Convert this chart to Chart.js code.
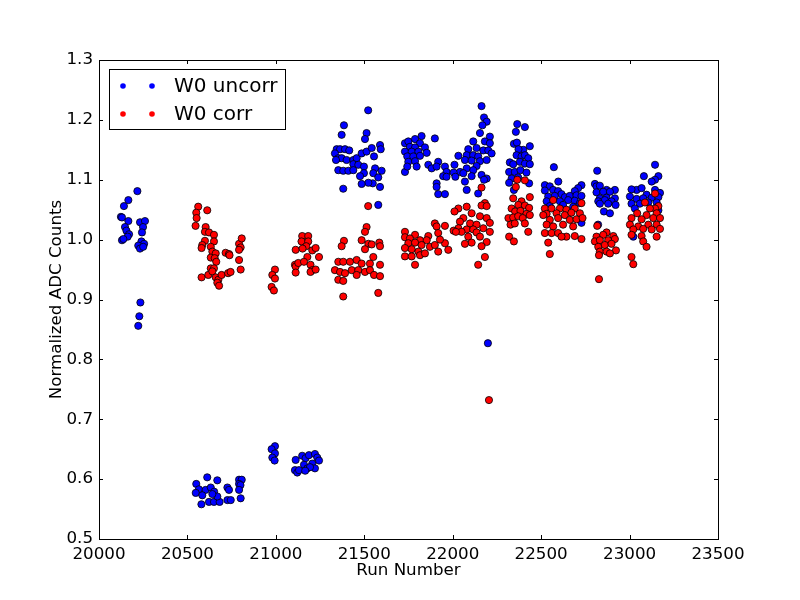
<!DOCTYPE html>
<html>
<head>
<meta charset="utf-8">
<script src="https://cdn.jsdelivr.net/npm/chart.js@4.4.1/dist/chart.umd.min.js"></script>
<style>
  body { margin: 0; background: #fff; }
  canvas { display: block; }
</style>
</head>
<body>
<canvas id="myChart" width="800" height="600"></canvas>
<script>
// [run number, normalized ADC counts]
const w0Uncorr = [
    [20217,1.081],[20166,1.066],[20141,1.056],[20124,1.038],[20130,1.037],[20166,1.031],[20147,1.021],[20155,1.015],
    [20170,1.009],[20162,1.005],[20130,0.999],[20138,1.001],[20232,1.029],[20260,1.031],[20249,1.021],[20243,1.012],
    [20240,0.997],[20255,0.993],[20222,0.990],[20232,0.985],[20250,0.988],[20234,0.895],[20228,0.872],[20222,0.856],
    [20550,0.592],[20612,0.603],[20669,0.598],[20565,0.583],[20547,0.577],[20603,0.582],[20632,0.586],[20651,0.579],
    [20584,0.573],[20579,0.558],[20622,0.562],[20650,0.562],[20682,0.562],[20669,0.571],[20641,0.575],[20726,0.586],
    [20735,0.582],[20726,0.565],[20745,0.565],[20792,0.599],[20807,0.599],[20792,0.592],[20800,0.590],[20792,0.582],
    [20801,0.568],
    [20995,0.655],[20976,0.650],[20995,0.643],[20980,0.636],[20993,0.631],
    [21112,0.632],[21108,0.615],[21121,0.611],[21149,0.639],[21168,0.635],[21187,0.640],[21221,0.642],[21234,0.636],
    [21244,0.631],[21159,0.624],[21178,0.618],[21206,0.626],[21221,0.618],[21193,0.620],[21131,0.615],[21166,0.614],
    [21522,1.216],[21385,1.191],[21372,1.175],[21513,1.178],[21504,1.168],[21344,1.151],[21363,1.151],[21391,1.151],
    [21415,1.149],[21334,1.144],[21353,1.136],[21372,1.136],[21400,1.133],[21340,1.133],[21438,1.133],[21457,1.136],
    [21485,1.144],[21513,1.147],[21542,1.153],[21589,1.158],[21593,1.151],[21555,1.139],[21438,1.126],[21466,1.125],
    [21498,1.122],[21561,1.119],[21598,1.115],[21353,1.116],[21381,1.115],[21410,1.115],[21438,1.116],[21498,1.111],
    [21476,1.106],[21551,1.111],[21579,1.104],[21548,1.094],[21523,1.095],[21485,1.093],[21589,1.088],[21381,1.085],
    [21579,1.058],
    [21824,1.173],[21899,1.169],[21730,1.161],[21749,1.164],[21787,1.168],[21815,1.161],[21758,1.155],[21787,1.154],
    [21843,1.154],[21730,1.147],[21768,1.147],[21806,1.147],[21853,1.145],[21743,1.139],[21777,1.139],[21815,1.140],
    [21749,1.130],[21787,1.131],[21730,1.113],[21743,1.122],[21796,1.122],[21862,1.125],[21881,1.119],[21918,1.130],
    [21909,1.122],[21956,1.122],[21965,1.113],[21946,1.106],[21965,1.105],[21909,1.094],[21909,1.088],[21918,1.076],
    [21956,1.076],
    [22163,1.223],[22177,1.204],[22192,1.197],[22168,1.191],[22154,1.178],[22210,1.172],[22116,1.164],[22182,1.164],
    [22210,1.161],[22135,1.153],[22088,1.151],[22173,1.149],[22201,1.149],[22220,1.144],[22079,1.141],[22116,1.141],
    [22144,1.139],[22032,1.140],[22069,1.133],[22107,1.132],[22154,1.131],[22192,1.133],[22135,1.123],[22079,1.119],
    [22041,1.113],[22060,1.111],[22116,1.116],[22163,1.108],[22107,1.106],[22192,1.102],[22069,1.097],[22079,1.083],
    [22144,1.077],[22177,1.100],[22005,1.112],[22015,1.105],[22010,1.125],[22199,0.827],
    [22365,1.193],[22408,1.188],[22357,1.180],[22346,1.160],[22363,1.162],[22436,1.156],[22399,1.150],[22372,1.151],
    [22361,1.141],[22389,1.139],[22408,1.141],[22427,1.136],[22323,1.129],[22342,1.126],[22380,1.130],[22408,1.127],
    [22436,1.126],[22319,1.113],[22351,1.113],[22383,1.116],[22417,1.112],[22333,1.102],[22370,1.104],[22319,1.095],
    [22432,1.094],[22346,1.083],
    [22572,1.121],[22597,1.097],[22521,1.091],[22549,1.089],[22521,1.082],[22568,1.083],[22596,1.081],[22615,1.076],
    [22728,1.091],[22709,1.086],[22690,1.081],[22540,1.072],[22577,1.073],[22634,1.071],[22662,1.073],[22700,1.074],
    [22728,1.073],[22531,1.064],[22606,1.064],[22653,1.066],[22690,1.065],[22719,1.061],[22549,1.056],[22624,1.058],
    [22681,1.055],[22728,1.028],
    [22817,1.115],[22804,1.093],[22813,1.089],[22832,1.090],[22870,1.083],[22917,1.083],[22813,1.079],[22851,1.080],
    [22889,1.080],[22832,1.069],[22870,1.070],[22917,1.069],[22823,1.064],[22860,1.066],[22898,1.064],[22832,1.060],
    [22879,1.060],[22921,1.058],[22855,1.047],[22889,1.044],[22822,1.025],
    [23144,1.125],[23081,1.106],[23163,1.106],[23144,1.100],[23125,1.097],[23040,1.083],[23011,1.084],[23068,1.086],
    [23144,1.083],[23096,1.075],[23172,1.078],[23002,1.072],[23040,1.068],[23077,1.069],[23125,1.070],[23163,1.071],
    [23011,1.060],[23058,1.060],[23106,1.062],[23153,1.062],[23030,1.052],[23163,1.049],[23021,1.005]
];

const w0Corr = [
    [20561,1.055],[20550,1.045],[20552,1.036],[20612,1.049],[20546,1.023],[20603,1.021],[20599,1.013],[20622,1.012],
    [20650,1.008],[20599,0.998],[20584,0.991],[20580,0.986],[20650,0.997],[20632,0.988],[20641,0.980],[20660,0.977],
    [20632,0.970],[20654,0.969],[20663,0.963],[20716,0.978],[20735,0.976],[20738,0.974],[20792,0.993],[20807,1.002],
    [20801,0.987],[20792,0.983],[20792,0.966],[20801,0.950],[20580,0.937],[20618,0.941],[20632,0.952],[20650,0.952],
    [20641,0.947],[20660,0.937],[20675,0.933],[20669,0.928],[20679,0.923],[20693,0.941],[20730,0.944],[20744,0.946],
    [20995,0.950],[20980,0.941],[20995,0.935],[20976,0.921],[20989,0.915],
    [21112,0.983],[21108,0.958],[21112,0.955],[21112,0.945],[21127,0.961],[21149,1.006],[21183,1.006],[21145,0.997],
    [21183,0.997],[21172,0.989],[21151,0.985],[21206,0.982],[21225,0.986],[21178,0.971],[21159,0.963],[21196,0.958],
    [21206,0.949],[21196,0.946],[21225,0.950],[21244,0.971],
    [21522,1.056],[21513,1.021],[21504,1.013],[21385,0.998],[21372,0.989],[21485,0.999],[21523,0.993],[21542,0.992],
    [21585,0.995],[21589,0.989],[21504,0.984],[21353,0.963],[21381,0.963],[21419,0.963],[21457,0.966],[21485,0.960],
    [21532,0.960],[21551,0.971],[21589,0.958],[21334,0.949],[21363,0.946],[21391,0.944],[21429,0.949],[21466,0.949],
    [21504,0.946],[21532,0.949],[21555,0.941],[21589,0.939],[21353,0.933],[21381,0.931],[21457,0.941],[21381,0.905],
    [21579,0.911],
    [21899,1.027],[21909,1.022],[21918,1.011],[21956,1.023],[21730,1.013],[21787,1.008],[21862,1.006],[21730,1.004],
    [21758,1.002],[21815,0.999],[21853,0.999],[21749,0.994],[21787,0.995],[21824,0.991],[21871,0.988],[21899,0.991],
    [21956,0.994],[21928,1.000],[21730,0.986],[21768,0.984],[21806,0.980],[21730,0.972],[21768,0.972],[21815,0.974],
    [21843,0.977],[21918,0.980],[21975,0.983],[21787,0.958],
    [22163,1.087],[22182,1.061],[22163,1.057],[22192,1.056],[22079,1.055],[22032,1.052],[22107,1.044],[22060,1.036],
    [22154,1.039],[22192,1.036],[22210,1.028],[22041,1.030],[22098,1.027],[22135,1.025],[22032,1.019],[22079,1.017],
    [22116,1.017],[22173,1.019],[22210,1.013],[22050,1.013],[22135,1.012],[22088,1.005],[22154,1.005],[22107,0.995],
    [22069,0.993],[22192,0.996],[22163,0.989],[22182,0.971],[22144,0.958],[22010,1.047],[22005,1.015],[22018,1.013],
    [22205,0.732],
    [22365,1.100],[22408,1.099],[22357,1.088],[22436,1.071],[22342,1.069],[22389,1.064],[22371,1.058],[22408,1.057],
    [22432,1.053],[22333,1.052],[22353,1.047],[22383,1.048],[22417,1.043],[22315,1.036],[22342,1.037],[22370,1.039],
    [22396,1.036],[22436,1.041],[22327,1.025],[22351,1.027],[22408,1.027],[22427,1.013],[22319,1.005],[22346,0.997],
    [22568,1.066],[22521,1.052],[22559,1.052],[22606,1.052],[22643,1.050],[22690,1.052],[22728,1.061],[22531,1.043],
    [22587,1.044],[22634,1.041],[22671,1.045],[22719,1.044],[22512,1.041],[22549,1.033],[22596,1.036],[22662,1.033],
    [22700,1.034],[22734,1.036],[22531,1.025],[22568,1.022],[22624,1.025],[22681,1.022],[22521,1.011],[22559,1.011],
    [22596,1.011],[22643,1.005],[22690,1.006],[22615,1.005],[22728,1.001],[22540,0.995],[22549,0.976],
    [22817,1.023],[22870,1.012],[22908,1.006],[22813,1.005],[22851,1.008],[22804,0.997],[22832,0.999],[22879,0.999],
    [22917,1.001],[22823,0.988],[22860,0.991],[22898,0.993],[22923,0.982],[22832,0.980],[22870,0.980],[22889,0.977],
    [22827,0.974],[22827,0.934],
    [23144,1.077],[23087,1.062],[23163,1.056],[23144,1.052],[23115,1.052],[23043,1.044],[23096,1.041],[23153,1.044],
    [23011,1.036],[23068,1.034],[23134,1.036],[23172,1.036],[23002,1.025],[23049,1.022],[23106,1.025],[23153,1.025],
    [23021,1.017],[23077,1.018],[23125,1.017],[23172,1.018],[23011,1.008],[23068,1.006],[23153,1.005],[23077,0.997],
    [23096,0.988],[23011,0.971],[23021,0.959]
];

const seriesNames = ['W0 uncorr', 'W0 corr'];
const seriesColors = ['#0000ff', '#ff0000'];
const xRange = [20000, 23500];
const yRange = [0.5, 1.3];

function toPoints(arr) {
    return arr.map(function(p) { return {x: p[0], y: p[1]}; });
}

// frame, inward tick marks and the matplotlib-style legend box
const mplLook = {
    id: 'mplLook',
    afterDraw: function(chart) {
        const ctx = chart.ctx;
        const a = chart.chartArea;
        const xs = chart.scales.x, ys = chart.scales.y;
        ctx.save();
        ctx.strokeStyle = '#000';
        ctx.lineWidth = 1;
        ctx.beginPath();
        xs.ticks.forEach(function(t) {
            const px = Math.round(xs.getPixelForValue(t.value)) + 0.5;
            ctx.moveTo(px, a.bottom); ctx.lineTo(px, a.bottom - 4);
            ctx.moveTo(px, a.top); ctx.lineTo(px, a.top + 4);
        });
        ys.ticks.forEach(function(t) {
            const py = Math.round(ys.getPixelForValue(t.value)) + 0.5;
            ctx.moveTo(a.left, py); ctx.lineTo(a.left + 4, py);
            ctx.moveTo(a.right, py); ctx.lineTo(a.right - 4, py);
        });
        ctx.stroke();
        ctx.strokeRect(Math.round(a.left) + 0.5, Math.round(a.top) + 0.5,
            Math.round(a.right - a.left), Math.round(a.bottom - a.top));

        // legend
        const lx = 109, ly = 69, lw = 176, lh = 60;
        ctx.fillStyle = '#fff';
        ctx.fillRect(lx, ly, lw, lh);
        ctx.strokeRect(lx + 0.5, ly + 0.5, lw, lh);
        ctx.font = '20px "DejaVu Sans"';
        ctx.textBaseline = 'middle';
        seriesNames.forEach(function(name, i) {
            const ry = ly + 17 + i * 28;
            [123, 152].forEach(function(mx) {
                ctx.beginPath();
                ctx.arc(mx, ry, 2.8, 0, Math.PI * 2);
                ctx.fillStyle = seriesColors[i];
                ctx.fill();
            });
            ctx.fillStyle = '#000';
            ctx.fillText(name, 174, ry + 1);
        });
        ctx.restore();
    }
};

Chart.defaults.font.family = '"DejaVu Sans", sans-serif';
Chart.defaults.color = '#000';

const ctx = document.getElementById('myChart').getContext('2d');
const myChart = new Chart(ctx, {
    type: 'scatter',
    data: {
        datasets: [{
            label: seriesNames[0],
            data: toPoints(w0Uncorr),
            backgroundColor: seriesColors[0],
            borderColor: '#000',
            borderWidth: 0.8,
            pointRadius: 3.6,
            order: 1
        }, {
            label: seriesNames[1],
            data: toPoints(w0Corr),
            backgroundColor: seriesColors[1],
            borderColor: '#000',
            borderWidth: 0.8,
            pointRadius: 3.6,
            order: 0
        }]
    },
    options: {
        responsive: false,
        animation: false,
        devicePixelRatio: 1,
        layout: {
            padding: {left: 0, top: 60, right: 82, bottom: 0}
        },
        plugins: {
            legend: {display: false},
            tooltip: {enabled: false}
        },
        scales: {
            x: {
                type: 'linear',
                min: xRange[0],
                max: xRange[1],
                grid: {display: false, drawTicks: false},
                border: {display: false},
                ticks: {
                    stepSize: 500,
                    padding: 6,
                    font: {size: 16.7},
                    callback: function(v) { return String(v); }
                },
                title: {
                    display: true,
                    text: 'Run Number',
                    font: {size: 16.7},
                    padding: {top: 0, bottom: 19}
                },
                afterFit: function(scale) { scale.height = 61; }
            },
            y: {
                type: 'linear',
                min: yRange[0],
                max: yRange[1],
                grid: {display: false, drawTicks: false},
                border: {display: false},
                ticks: {
                    stepSize: 0.1,
                    padding: 6,
                    font: {size: 16.7},
                    callback: function(v) { return v.toFixed(1); }
                },
                title: {
                    display: true,
                    text: 'Normalized ADC Counts',
                    font: {size: 16.7},
                    padding: {top: 47, bottom: 0}
                },
                afterFit: function(scale) { scale.width = 99; }
            }
        }
    },
    plugins: [mplLook]
});
</script>
</body>
</html>
